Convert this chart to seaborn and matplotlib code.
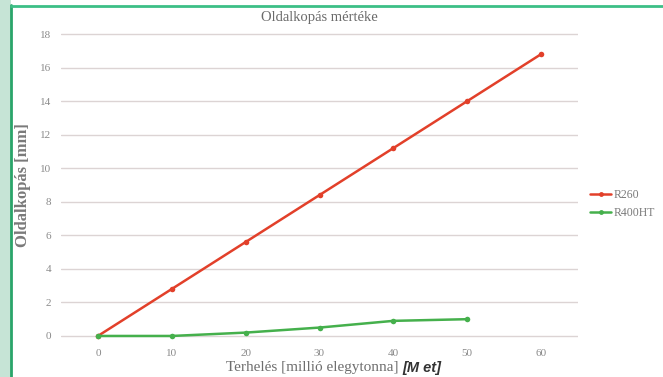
import matplotlib
matplotlib.use("Agg")
import matplotlib.pyplot as plt
import seaborn as sns
import pandas as pd
from matplotlib.patches import Rectangle
from matplotlib.lines import Line2D

x_r260 = [0, 10, 20, 30, 40, 50, 60]
y_r260 = [0, 2.8, 5.6, 8.4, 11.2, 14.0, 16.8]
x_r400 = [0, 10, 20, 30, 40, 50]
y_r400 = [0, 0, 0.2, 0.5, 0.9, 1.0]
series_names = ["R260", "R400HT"]
x_ticks = [0, 10, 20, 30, 40, 50, 60]
y_ticks = [0, 2, 4, 6, 8, 10, 12, 14, 16, 18]

df = pd.concat([
    pd.DataFrame({"x": x_r260, "y": y_r260, "s": series_names[0]}),
    pd.DataFrame({"x": x_r400, "y": y_r400, "s": series_names[1]}),
])

sns.set_theme(style="white")
plt.rcParams["font.family"] = ["Liberation Serif", "DejaVu Serif"]

W, H = 663, 377
fig = plt.figure(figsize=(W / 100, H / 100), dpi=100)
fig.patch.set_facecolor("white")

# decorative frame
fig.patches.append(Rectangle((0, 0), 11 / W, 1, transform=fig.transFigure,
                             facecolor="#c6e4d6", edgecolor="none", zorder=0))
fig.lines.append(Line2D([11 / W, 11 / W], [0, 1 - 5 / H], transform=fig.transFigure,
                        color="#2aa56a", lw=2, zorder=1))
fig.lines.append(Line2D([11 / W, 1], [1 - 5.5 / H, 1 - 5.5 / H], transform=fig.transFigure,
                        color="#3cbf86", lw=2, zorder=1))

ax = fig.add_axes([61 / W, 1 - 343 / H, (578 - 61) / W, (343 - 27) / H])
palette = {"R260": "#e2402a", "R400HT": "#45b04c"}
sns.lineplot(data=df, x="x", y="y", hue="s", palette=palette, marker="o",
             markersize=4, markeredgewidth=0, linewidth=1.8, ax=ax, legend=False)

ax.set_xlim(-5, 65)
ax.set_ylim(-0.42, 18.42)
ax.set_xticks(x_ticks)
ax.set_yticks(y_ticks)
ax.tick_params(axis="both", labelsize=8, colors="#8a8a8a", length=0)
ax.tick_params(axis="x", pad=4)
ax.tick_params(axis="y", pad=7)
ax.yaxis.grid(True, color="#dcd4d4", lw=1)
for sp in ax.spines.values():
    sp.set_visible(False)
ax.set_xlabel("")
ax.set_ylabel("Oldalkopás [mm]", fontsize=12, color="#7a7a7a", fontweight="bold")
ax.yaxis.set_label_coords((31 - 61) / 517, 0.5)
ax.set_title("Oldalkopás mértéke", fontsize=10.5, color="#6a6a6a", pad=4)

t1 = fig.text(226 / W, 1 - 368 / H, "Terhelés [millió elegytonna]", fontsize=11, color="#6e6e6e",
              ha="left", va="center")
fig.canvas.draw()
bb = t1.get_window_extent()
fig.text((bb.x1 + 4) / W, 1 - 368 / H, "[M et]", fontsize=10.5, color="#333333", ha="left",
         va="center", family=["Liberation Sans", "DejaVu Sans"], fontweight="bold",
         fontstyle="italic")

handles = [Line2D([0], [0], color=palette[n], lw=1.8, marker="o", markersize=3.5,
                  markeredgewidth=0) for n in series_names]
fig.legend(handles, series_names, loc="center left", bbox_to_anchor=(590 / W, 1 - 204 / H),
           frameon=False, fontsize=8.5, handlelength=1.8, handletextpad=0.2,
           borderpad=0, borderaxespad=0,
           labelcolor="#7a7a7a", labelspacing=0.5)

fig.savefig("out.png", dpi=100)
